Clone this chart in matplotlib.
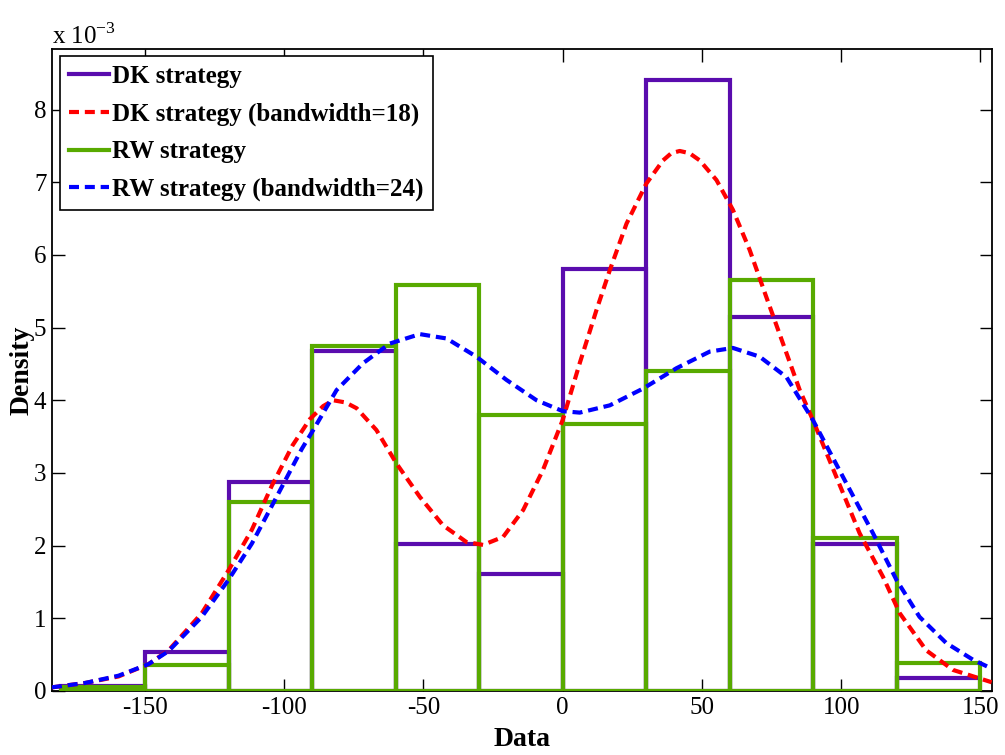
import matplotlib
matplotlib.use("Agg")
import matplotlib.pyplot as plt

# histogram bins (width 30) and densities in units of 1e-3
bin_left = [-180, -150, -120, -90, -60, -30, 0, 30, 60, 90, 120]
dk_hist = [0.07, 0.53, 2.87, 4.68, 2.02, 1.61, 5.81, 8.41, 5.14, 2.02, 0.18]
rw_hist = [0.05, 0.36, 2.60, 4.75, 5.58, 3.80, 3.67, 4.40, 5.65, 2.10, 0.39]

# kernel density curves
dk_kde_x = [-183.4, -171.5, -159.5, -148.7, -141.5, -129.6, -120, -111.6, -104.5,
            -97, -90.8, -86, -82.4, -78, -74, -66.9, -59.7, -51.3, -43, -34.6,
            -28.6, -21.4, -14.2, -7.1, 0, 6.1, 12.1, 16.9, 22.9, 30, 36, 39, 42,
            45.5, 49.2, 55.2, 61.1, 67.1, 73.1, 79.1, 85.1, 89.8, 98.2, 106.6, 115,
            121, 130.5, 140.1, 154]
dk_kde_y = [0.05, 0.11, 0.20, 0.37, 0.56, 1.07, 1.66, 2.22, 2.82,
            3.38, 3.74, 3.92, 4.00, 3.97, 3.89, 3.59, 3.13, 2.67, 2.28, 2.05,
            2.01, 2.12, 2.49, 3.04, 3.73, 4.51, 5.24, 5.79, 6.43, 6.98, 7.30, 7.40, 7.43,
            7.40, 7.30, 7.03, 6.62, 6.07, 5.42, 4.78, 4.14, 3.73, 2.95, 2.17, 1.57,
            1.07, 0.56, 0.29, 0.12]

rw_kde_x = [-183.4, -171.5, -159.5, -148.7, -141.5, -129.6, -120, -111.6, -103.3,
            -93.7, -89.6, -81.2, -71.7, -62.1, -51.3, -41.7, -31, -20.2, -9.4,
            0, 6.1, 16.9, 28.8, 40.8, 52.8, 61.1, 70.7, 80.3, 89.8, 101.8,
            111.4, 119.8, 128.1, 137.7, 147.3, 153.9]
rw_kde_y = [0.05, 0.11, 0.21, 0.37, 0.55, 1.02, 1.53, 2.03, 2.63,
            3.33, 3.59, 4.14, 4.51, 4.78, 4.91, 4.85, 4.60, 4.28, 4.00,
            3.85, 3.83, 3.93, 4.16, 4.44, 4.67, 4.72, 4.60, 4.32, 3.73, 2.86,
            2.17, 1.53, 1.02, 0.66, 0.43, 0.31]

labels = ["DK strategy", "DK strategy (bandwidth=18)",
          "RW strategy", "RW strategy (bandwidth=24)"]

purple = "#5a0cae"
green = "#58aa00"
lw = 3.0
dash = (0, (2.4, 1.4))

plt.rcParams['font.family'] = ['Liberation Serif', 'DejaVu Serif']
plt.rcParams['axes.unicode_minus'] = False

fig = plt.figure(figsize=(10.05, 7.55), dpi=100)
ax = fig.add_axes([0.0517, 0.0848, 0.935, 0.85])

ax.bar(bin_left, dk_hist, width=30, align='edge', fill=False,
       edgecolor=purple, linewidth=lw, zorder=2)
ax.bar(bin_left, rw_hist, width=30, align='edge', fill=False,
       edgecolor=green, linewidth=lw, zorder=3)
ax.plot(dk_kde_x, dk_kde_y, color='red', linestyle=dash, linewidth=lw, zorder=4)
ax.plot(rw_kde_x, rw_kde_y, color='blue', linestyle=dash, linewidth=lw, zorder=5)

h1, = ax.plot([], [], color=purple, linewidth=lw)
h2, = ax.plot([], [], color='red', linestyle=dash, linewidth=lw)
h3, = ax.plot([], [], color=green, linewidth=lw)
h4, = ax.plot([], [], color='blue', linestyle=dash, linewidth=lw)
leg = ax.legend([h1, h2, h3, h4], labels, loc='upper left',
                bbox_to_anchor=(0.0085, 0.989),
                prop={'weight': 'bold', 'size': 18}, fancybox=False,
                framealpha=1, edgecolor='black', borderpad=0.35,
                handlelength=1.6, handletextpad=0.15, labelspacing=0.58,
                borderaxespad=0)
leg.get_frame().set_linewidth(1.2)

ax.set_xlim(-183.4, 154)
ax.set_ylim(0, 8.83)
ax.set_xticks([-150, -100, -50, 0, 50, 100, 150])
ax.set_yticks(range(0, 9))
ax.tick_params(direction='in', length=9, width=1, top=True, right=True,
               labelsize=18, pad=4)
for s in ax.spines.values():
    s.set_linewidth(1.3)

ax.set_xlabel("Data", fontsize=20, fontweight='bold', labelpad=6)
ax.set_ylabel("Density", fontsize=20, fontweight='bold')
ax.yaxis.set_label_coords(-0.018, 0.5)
fig.text(0.052, 0.942, r"x 10$^{\mathregular{-3}}$", fontsize=18,
         ha='left', va='baseline')

fig.savefig("out.png", dpi=100)
